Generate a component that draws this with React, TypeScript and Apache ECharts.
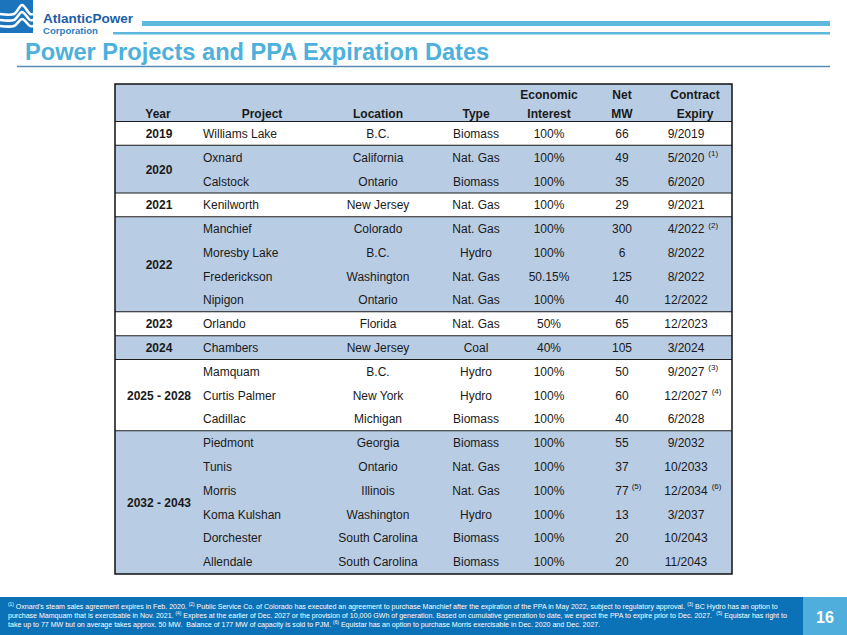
import React, { useEffect, useRef } from "react";
import * as echarts from "echarts";

const FONT = '"Liberation Sans", Arial, Helvetica, sans-serif';

// ---------- data ----------
const headerTop = ["", "", "", "", "Economic", "Net", "Contract"];
const headerBottom = ["Year", "Project", "Location", "Type", "Interest", "MW", "Expiry"];

const groupLabels = ["2019", "2020", "2021", "2022", "2023", "2024", "2025 - 2028", "2032 - 2043"];
const groupSizes = [1, 2, 1, 4, 1, 1, 3, 6];
const groupShaded = [false, true, false, true, false, true, false, true];

const projects = [
  "Williams Lake", "Oxnard", "Calstock", "Kenilworth", "Manchief", "Moresby Lake", "Frederickson",
  "Nipigon", "Orlando", "Chambers", "Mamquam", "Curtis Palmer", "Cadillac", "Piedmont", "Tunis",
  "Morris", "Koma Kulshan", "Dorchester", "Allendale",
];
const locations = [
  "B.C.", "California", "Ontario", "New Jersey", "Colorado", "B.C.", "Washington", "Ontario",
  "Florida", "New Jersey", "B.C.", "New York", "Michigan", "Georgia", "Ontario", "Illinois",
  "Washington", "South Carolina", "South Carolina",
];
const types = [
  "Biomass", "Nat. Gas", "Biomass", "Nat. Gas", "Nat. Gas", "Hydro", "Nat. Gas", "Nat. Gas",
  "Nat. Gas", "Coal", "Hydro", "Hydro", "Biomass", "Biomass", "Nat. Gas", "Nat. Gas", "Hydro",
  "Biomass", "Biomass",
];
const interests = [
  "100%", "100%", "100%", "100%", "100%", "100%", "50.15%", "100%", "50%", "40%", "100%", "100%",
  "100%", "100%", "100%", "100%", "100%", "100%", "100%",
];
const netMW = [66, 49, 35, 29, 300, 6, 125, 40, 65, 105, 50, 60, 40, 55, 37, 77, 13, 20, 20];
const mwNotes = ["", "", "", "", "", "", "", "", "", "", "", "", "", "", "", "(5)", "", "", ""];
const expiries = [
  "9/2019", "5/2020", "6/2020", "9/2021", "4/2022", "8/2022", "8/2022", "12/2022", "12/2023",
  "3/2024", "9/2027", "12/2027", "6/2028", "9/2032", "10/2033", "12/2034", "3/2037", "10/2043",
  "11/2043",
];
const expiryNotes = ["", "(1)", "", "", "(2)", "", "", "", "", "", "(3)", "(4)", "", "", "", "(6)", "", "", ""];

const footnoteLines = [
  "{s|(1)} Oxnard's steam sales agreement expires in Feb. 2020. {s|(2)} Public Service Co. of Colorado has executed an agreement to purchase Manchief after the expiration of the PPA in May 2022, subject to regulatory approval. {s|(3)} BC Hydro has an option to",
  "purchase Mamquam that is exercisable in Nov. 2021. {s|(4)} Expires at the earlier of Dec. 2027 or the provision of 10,000 GWh of generation. Based on cumulative generation to date, we expect the PPA to expire prior to Dec. 2027.  {s|(5)} Equistar has right to",
  "take up to 77 MW but on average takes approx. 50 MW.  Balance of 177 MW of capacity is sold to PJM. {s|(6)} Equistar has an option to purchase Morris exercisable in Dec. 2020 and Dec. 2027.",
];

const titleText = "Power Projects and PPA Expiration Dates";
const pageNumber = "16";

// ---------- layout ----------
const W = 847;
const H = 635;
const TABLE_LEFT = 115;
const TABLE_RIGHT = 732;
const TABLE_TOP = 84;
const TABLE_BOTTOM = 574;
const HEADER_UNITS = 1.6;
const ROW_COUNT = projects.length;
const COL = { year: 159, project: 203, location: 378, type: 476, interest: 549, mw: 622, expiry: 686 };
const HEADER_X = [158, 262, 378, 476, 549, 622, 695];
const BLUE = "#B8CCE4";
const INK = "#1a1a1a";

const measureCtx = typeof document !== "undefined" ? document.createElement("canvas").getContext("2d") : null;
function textWidth(t: string, font: string): number {
  if (!measureCtx) return t.length * 6;
  measureCtx.font = font;
  return measureCtx.measureText(t).width;
}

function txt(text: string, x: number, y: number, align: string, bold = false, size = 12, fill = INK) {
  return {
    type: "text",
    style: {
      text,
      x,
      y,
      align,
      textAlign: align,
      verticalAlign: "middle",
      textVerticalAlign: "middle",
      fontFamily: FONT,
      fontSize: size,
      fontWeight: bold ? "bold" : "normal",
      fill,
    },
  };
}

function label(text: string, x: number, y: number, size: number, color: string, bold = true, align = "left") {
  return {
    type: "text",
    style: {
      text,
      x,
      y,
      align,
      textAlign: align,
      verticalAlign: "middle",
      textVerticalAlign: "middle",
      fontFamily: FONT,
      fontSize: size,
      fontWeight: bold ? "bold" : "normal",
      fill: color,
    },
  };
}

export default function App() {
  const ref = useRef<HTMLDivElement>(null);

  useEffect(() => {
    if (!ref.current) return;
    const chart = echarts.init(ref.current, undefined, { renderer: "svg" });

    const groupData: number[][] = [[TABLE_LEFT, -HEADER_UNITS, 0, -1]];
    let start = 0;
    groupSizes.forEach((n, gi) => {
      groupData.push([TABLE_LEFT, start, start + n, gi]);
      start += n;
    });

    const groupSeries = {
      type: "custom",
      silent: true,
      coordinateSystem: "cartesian2d",
      encode: { x: 0, y: [1, 2] },
      data: groupData,
      renderItem: (params: any, api: any) => {
        const s = api.value(1) as number;
        const e = api.value(2) as number;
        const gi = api.value(3) as number;
        const a = api.coord([TABLE_LEFT, s]);
        const b = api.coord([TABLE_RIGHT, e]);
        const shaded = gi < 0 ? true : groupShaded[gi];
        const children: any[] = [
          {
            type: "rect",
            shape: { x: a[0], y: a[1], width: b[0] - a[0], height: b[1] - a[1] },
            style: { fill: shaded ? BLUE : "#ffffff" },
          },
        ];
        if (gi >= 0) {
          children.push(txt(groupLabels[gi], api.coord([COL.year, 0])[0], (a[1] + b[1]) / 2, "center", true));
        }
        if (e < ROW_COUNT) {
          children.push({
            type: "line",
            shape: { x1: a[0], y1: b[1], x2: b[0], y2: b[1] },
            style: { stroke: "#1b1b1b", lineWidth: 2 },
          });
        }
        return { type: "group", children };
      },
    };

    const headerSeries = {
      type: "custom",
      silent: true,
      coordinateSystem: "cartesian2d",
      encode: { x: 0, y: 1 },
      data: headerBottom.map((_, j) => [HEADER_X[j], -0.34]),
      renderItem: (params: any, api: any) => {
        const j = params.dataIndex;
        const p1 = api.coord([HEADER_X[j], -1.13]);
        const p2 = api.coord([HEADER_X[j], -0.34]);
        const children: any[] = [];
        if (headerTop[j]) children.push(txt(headerTop[j], p1[0], p1[1], "center", true));
        children.push(txt(headerBottom[j], p2[0], p2[1], "center", true));
        return { type: "group", children };
      },
    };

    const rowSeries = {
      type: "custom",
      silent: true,
      coordinateSystem: "cartesian2d",
      encode: { x: 0, y: 1 },
      data: projects.map((_, i) => [TABLE_LEFT, i + 0.5]),
      renderItem: (params: any, api: any) => {
        const i = params.dataIndex;
        const yc = api.coord([TABLE_LEFT, api.value(1)])[1];
        const X = (v: number) => api.coord([v, 0])[0];
        const font12 = `12px ${FONT}`;
        const children: any[] = [
          txt(projects[i], X(COL.project), yc, "left"),
          txt(locations[i], X(COL.location), yc, "center"),
          txt(types[i], X(COL.type), yc, "center"),
          txt(interests[i], X(COL.interest), yc, "center"),
          txt(String(netMW[i]), X(COL.mw), yc, "center"),
          txt(expiries[i], X(COL.expiry), yc, "center"),
        ];
        if (mwNotes[i]) {
          const w = textWidth(String(netMW[i]), font12);
          children.push(txt(mwNotes[i], X(COL.mw) + w / 2 + 3, yc - 4, "left", false, 8));
        }
        if (expiryNotes[i]) {
          const w = textWidth(expiries[i], font12);
          children.push(txt(expiryNotes[i], X(COL.expiry) + w / 2 + 4, yc - 4, "left", false, 8));
        }
        return { type: "group", children };
      },
    };

    const borderSeries = {
      type: "custom",
      silent: true,
      coordinateSystem: "cartesian2d",
      encode: { x: 0, y: 1 },
      data: [[TABLE_LEFT, -HEADER_UNITS]],
      renderItem: (params: any, api: any) => {
        const a = api.coord([TABLE_LEFT, -HEADER_UNITS]);
        const b = api.coord([TABLE_RIGHT, ROW_COUNT]);
        return {
          type: "rect",
          shape: { x: a[0], y: a[1], width: b[0] - a[0], height: b[1] - a[1] },
          style: { fill: "none", stroke: "#111111", lineWidth: 1.5 },
        };
      },
    };

    const waves = [
      [[0, 14], [14, 14], [22, 5], [30, 14], [33, 14]],
      [[0, 20], [14, 20], [22, 12], [30, 20], [33, 20]],
      [[0, 26], [14, 26], [22, 19], [30, 26], [33, 26]],
    ];

    const graphics: any[] = [
      { type: "rect", shape: { x: 0, y: 0, width: 33, height: 33 }, style: { fill: "#1C74BC" } },
      ...waves.map((pts) => ({
        type: "polyline",
        shape: { points: pts, smooth: 0.3 },
        style: { stroke: "#ffffff", lineWidth: 2.6, fill: "none" },
      })),
      label("AtlanticPower", 43, 18, 13.5, "#1B5EA8"),
      label("Corporation", 43, 30, 9.6, "#2A7EC3"),
      { type: "rect", shape: { x: 142, y: 21, width: 688, height: 5 }, style: { fill: "#5DB8DE" } },
      { type: "rect", shape: { x: 113, y: 32, width: 717, height: 2.5 }, style: { fill: "#5DB8DE" } },
      label(titleText, 25, 51.5, 23.6, "#4DB0DD"),
      {
        type: "line",
        shape: { x1: 17, y1: 66.5, x2: 830, y2: 66.5 },
        style: { stroke: "#5A8DB5", lineWidth: 1.5 },
      },
      { type: "rect", shape: { x: 0, y: 597, width: 803, height: 38 }, style: { fill: "#0B72B8" } },
      { type: "rect", shape: { x: 803, y: 597, width: 44, height: 38 }, style: { fill: "#4FAEDB" } },
      label(pageNumber, 825, 617, 16, "#ffffff", true, "center"),
      ...footnoteLines.map((line, k) => ({
        type: "text",
        style: {
          text: line,
          x: 8,
          y: 606 + k * 9,
          align: "left",
          textAlign: "left",
          verticalAlign: "middle",
          textVerticalAlign: "middle",
          fontFamily: FONT,
          fontSize: 7.05,
          lineHeight: 9,
          fill: "#ffffff",
          rich: {
            s: { fontFamily: FONT, fontSize: 4.8, lineHeight: 9, verticalAlign: "top", fill: "#ffffff" },
          },
        },
      })),
    ];

    chart.setOption({
      animation: false,
      backgroundColor: "#ffffff",
      grid: {
        left: TABLE_LEFT,
        top: TABLE_TOP,
        width: TABLE_RIGHT - TABLE_LEFT,
        height: TABLE_BOTTOM - TABLE_TOP,
        show: false,
      },
      xAxis: { type: "value", min: TABLE_LEFT, max: TABLE_RIGHT, show: false },
      yAxis: { type: "value", min: -HEADER_UNITS, max: ROW_COUNT, inverse: true, show: false },
      tooltip: { show: false },
      series: [groupSeries, headerSeries, rowSeries, borderSeries],
      graphic: graphics,
    });

    return () => chart.dispose();
  }, []);

  return (
    <div
      ref={ref}
      style={{ position: "absolute", left: 0, top: 0, width: W, height: H, background: "#fff" }}
    />
  );
}
